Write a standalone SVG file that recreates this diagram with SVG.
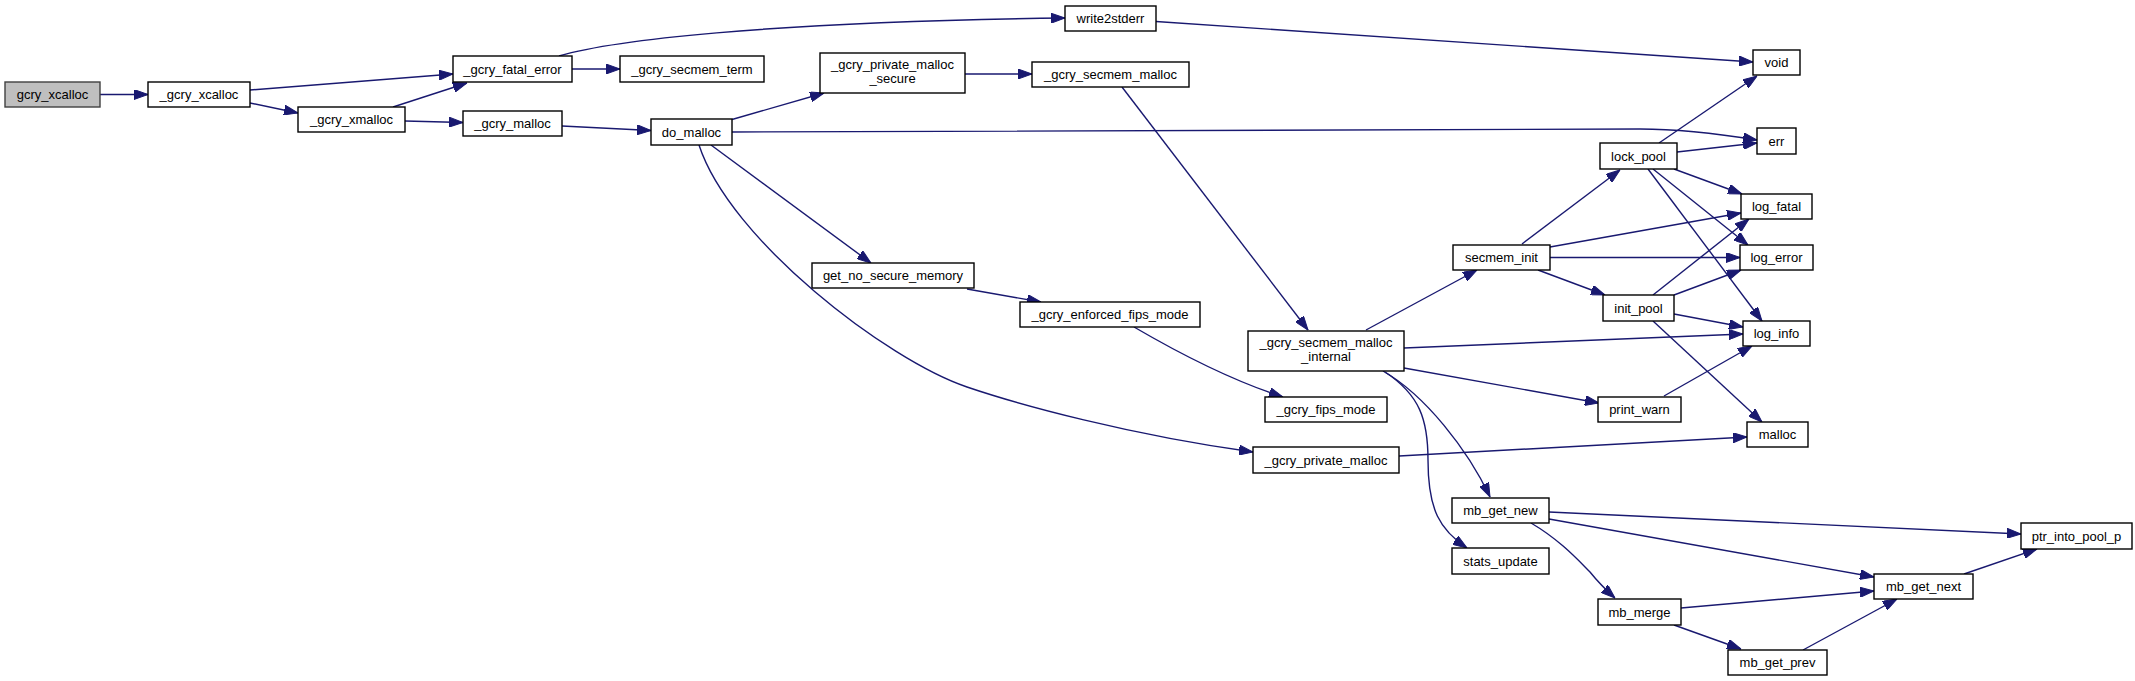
<svg xmlns="http://www.w3.org/2000/svg" width="2135" height="681" viewBox="0 0 2135 681">
<style>
  .n rect { fill: #ffffff; stroke: #000000; stroke-width: 1.4; }
  .n text { font-family: "Liberation Sans", Arial, Helvetica, sans-serif; font-size: 13px; fill: #000000; text-anchor: middle; }
  #edges path { fill: none; stroke: #191970; stroke-width: 1.4; marker-end: url(#ah); }
</style>
<defs>
  <marker id="ah" markerWidth="14" markerHeight="10" refX="14" refY="5" orient="auto" markerUnits="userSpaceOnUse">
    <path d="M0,0 L14,5 L0,10 Z" fill="#191970" stroke="#191970" stroke-width="1"/>
  </marker>
</defs>
<rect x="0" y="0" width="2135" height="681" fill="#ffffff"/>
<g id="edges">
  <path d="M100,94.5 L148,94.5"/>
  <path d="M250,90 L453,74"/>
  <path d="M250,103 L298,113"/>
  <path d="M393,107 L467,83"/>
  <path d="M405,121 L463,122.5"/>
  <path d="M572,69 L620,69"/>
  <path d="M559,56 C610,41 760,22 1065,18"/>
  <path d="M1156,21.5 L1753,62"/>
  <path d="M562,126 L651,130.5"/>
  <path d="M732,119.5 L824,93"/>
  <path d="M965,74 L1032,74"/>
  <path d="M732,132 C1100,131 1550,129 1640,129 C1680,129 1720,134 1757,140"/>
  <path d="M1122,87 L1308,330"/>
  <path d="M711,145 L871,263"/>
  <path d="M699,145 C730,240 887,360 967,387 C1020,405 1130,435 1253,452"/>
  <path d="M967,289 L1041,302"/>
  <path d="M1134,327 C1170,348 1230,380 1283,397"/>
  <path d="M1366,330 L1477,270"/>
  <path d="M1404,348 L1743,334"/>
  <path d="M1404,368 L1599,403"/>
  <path d="M1383,371 C1425,395 1468,450 1490,497"/>
  <path d="M1385,372 C1420,395 1428,420 1428,460 C1428,510 1440,530 1467,548"/>
  <path d="M1522,244 L1620,170"/>
  <path d="M1550,247 L1741,213"/>
  <path d="M1550,257.5 L1740,257.5"/>
  <path d="M1538,270 L1605,295"/>
  <path d="M1659,143 L1757,76"/>
  <path d="M1677,152 L1757,143"/>
  <path d="M1674,169 L1742,194"/>
  <path d="M1653,169 L1748,245"/>
  <path d="M1648,169 L1762,321"/>
  <path d="M1653,295 L1749,219"/>
  <path d="M1674,295 L1741,270"/>
  <path d="M1674,314 L1743,327"/>
  <path d="M1653,321 L1762,422"/>
  <path d="M1664,396 L1752,346"/>
  <path d="M1399,456 L1747,437"/>
  <path d="M1549,512 L2021,534"/>
  <path d="M1549,519 L1874,577"/>
  <path d="M1531,523 C1560,540 1578,560 1590,572 C1598,582 1606,590 1615,598"/>
  <path d="M1681,608 L1874,591"/>
  <path d="M1674,625 L1741,649"/>
  <path d="M1803,650 L1897,599"/>
  <path d="M1964,574 L2037,549"/>
</g>
<g id="node-gcry_xcalloc" class="n"><rect x="5" y="82" width="95" height="25" style="fill:#bfbfbf;stroke:#404040"/><text x="52.5" y="99">gcry_xcalloc</text></g>
<g id="node-_gcry_xcalloc" class="n"><rect x="148" y="82" width="102" height="25"/><text x="199" y="99">_gcry_xcalloc</text></g>
<g id="node-_gcry_xmalloc" class="n"><rect x="298" y="107" width="107" height="25"/><text x="351.5" y="124">_gcry_xmalloc</text></g>
<g id="node-_gcry_fatal_error" class="n"><rect x="453" y="56" width="119" height="26"/><text x="512.5" y="73.5">_gcry_fatal_error</text></g>
<g id="node-_gcry_malloc" class="n"><rect x="463" y="111" width="99" height="25"/><text x="512.5" y="128">_gcry_malloc</text></g>
<g id="node-_gcry_secmem_term" class="n"><rect x="620" y="56" width="144" height="26"/><text x="692" y="73.5">_gcry_secmem_term</text></g>
<g id="node-write2stderr" class="n"><rect x="1065" y="6" width="91" height="25"/><text x="1110.5" y="23">write2stderr</text></g>
<g id="node-do_malloc" class="n"><rect x="651" y="119" width="81" height="26"/><text x="691.5" y="136.5">do_malloc</text></g>
<g id="node-_gcry_private_malloc_secure" class="n"><rect x="820" y="53" width="145" height="40"/><text x="892.5" y="69">_gcry_private_malloc</text><text x="892.5" y="83">_secure</text></g>
<g id="node-_gcry_secmem_malloc" class="n"><rect x="1032" y="62" width="157" height="25"/><text x="1110.5" y="79">_gcry_secmem_malloc</text></g>
<g id="node-get_no_secure_memory" class="n"><rect x="812" y="263" width="162" height="25"/><text x="893" y="280">get_no_secure_memory</text></g>
<g id="node-_gcry_enforced_fips_mode" class="n"><rect x="1020" y="302" width="180" height="25"/><text x="1110" y="319">_gcry_enforced_fips_mode</text></g>
<g id="node-_gcry_secmem_malloc_internal" class="n"><rect x="1248" y="331" width="156" height="40"/><text x="1326" y="347">_gcry_secmem_malloc</text><text x="1326" y="361">_internal</text></g>
<g id="node-_gcry_fips_mode" class="n"><rect x="1265" y="397" width="122" height="25"/><text x="1326" y="414">_gcry_fips_mode</text></g>
<g id="node-_gcry_private_malloc" class="n"><rect x="1253" y="447" width="146" height="26"/><text x="1326" y="464.5">_gcry_private_malloc</text></g>
<g id="node-secmem_init" class="n"><rect x="1453" y="245" width="97" height="25"/><text x="1501.5" y="262">secmem_init</text></g>
<g id="node-mb_get_new" class="n"><rect x="1452" y="498" width="97" height="25"/><text x="1500.5" y="515">mb_get_new</text></g>
<g id="node-stats_update" class="n"><rect x="1452" y="548" width="97" height="26"/><text x="1500.5" y="565.5">stats_update</text></g>
<g id="node-lock_pool" class="n"><rect x="1600" y="143" width="77" height="26"/><text x="1638.5" y="160.5">lock_pool</text></g>
<g id="node-init_pool" class="n"><rect x="1603" y="295" width="71" height="26"/><text x="1638.5" y="312.5">init_pool</text></g>
<g id="node-print_warn" class="n"><rect x="1598" y="397" width="83" height="25"/><text x="1639.5" y="414">print_warn</text></g>
<g id="node-mb_merge" class="n"><rect x="1598" y="599" width="83" height="26"/><text x="1639.5" y="616.5">mb_merge</text></g>
<g id="node-void" class="n"><rect x="1753" y="50" width="47" height="25"/><text x="1776.5" y="67">void</text></g>
<g id="node-err" class="n"><rect x="1757" y="128" width="39" height="26"/><text x="1776.5" y="145.5">err</text></g>
<g id="node-log_fatal" class="n"><rect x="1741" y="194" width="71" height="25"/><text x="1776.5" y="211">log_fatal</text></g>
<g id="node-log_error" class="n"><rect x="1740" y="245" width="73" height="25"/><text x="1776.5" y="262">log_error</text></g>
<g id="node-log_info" class="n"><rect x="1743" y="321" width="67" height="25"/><text x="1776.5" y="338">log_info</text></g>
<g id="node-malloc" class="n"><rect x="1747" y="422" width="61" height="25"/><text x="1777.5" y="439">malloc</text></g>
<g id="node-mb_get_prev" class="n"><rect x="1728" y="650" width="99" height="25"/><text x="1777.5" y="667">mb_get_prev</text></g>
<g id="node-mb_get_next" class="n"><rect x="1874" y="574" width="99" height="25"/><text x="1923.5" y="591">mb_get_next</text></g>
<g id="node-ptr_into_pool_p" class="n"><rect x="2021" y="523" width="111" height="26"/><text x="2076.5" y="540.5">ptr_into_pool_p</text></g>
</svg>
